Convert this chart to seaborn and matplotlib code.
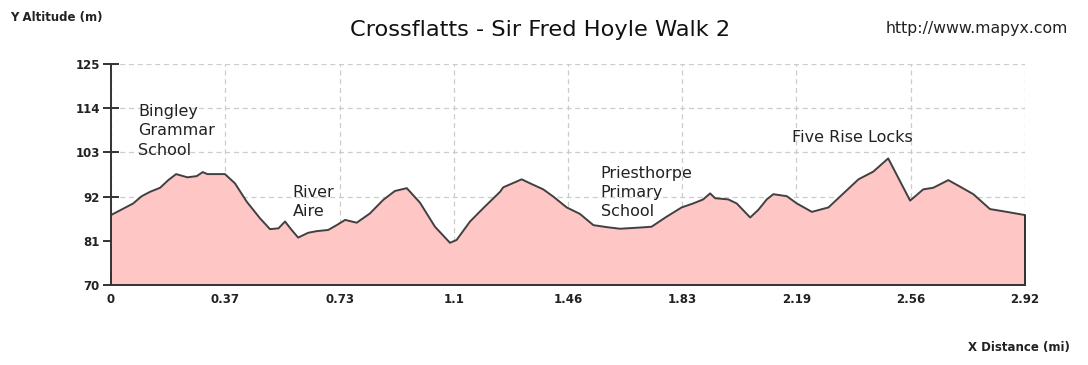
import matplotlib
matplotlib.use("Agg")
import matplotlib.pyplot as plt
import seaborn as sns
import pandas as pd

distance_mi = [0.0, 0.071, 0.098, 0.125, 0.157, 0.183, 0.208, 0.244, 0.274, 0.293, 0.308, 0.364,
               0.396, 0.434, 0.476, 0.508, 0.535, 0.556, 0.577, 0.598, 0.630, 0.657, 0.694, 0.721,
               0.748, 0.785, 0.827, 0.870, 0.907, 0.945, 0.987, 1.035, 1.083, 1.104, 1.147, 1.189,
               1.243, 1.253, 1.312, 1.339, 1.381, 1.413, 1.456, 1.498, 1.541, 1.584, 1.626, 1.690,
               1.727, 1.775, 1.823, 1.860, 1.892, 1.914, 1.930, 1.972, 1.999, 2.042, 2.068, 2.095,
               2.116, 2.159, 2.191, 2.239, 2.292, 2.340, 2.388, 2.435, 2.483, 2.553, 2.595, 2.627,
               2.675, 2.712, 2.755, 2.808, 2.862, 2.920]
altitude_m = [87.4, 90.3, 92.1, 93.2, 94.2, 96.1, 97.6, 96.8, 97.1, 98.1, 97.6, 97.6,
              95.3, 90.7, 86.6, 83.9, 84.1, 85.8, 83.7, 81.8, 83.0, 83.4, 83.7, 84.9,
              86.2, 85.5, 87.8, 91.2, 93.4, 94.1, 90.5, 84.5, 80.5, 81.2, 85.8, 89.1,
              93.2, 94.3, 96.3, 95.3, 93.8, 92.0, 89.3, 87.7, 84.9, 84.4, 84.0, 84.3,
              84.5, 87.0, 89.3, 90.3, 91.3, 92.8, 91.6, 91.3, 90.3, 86.8, 88.7, 91.3,
              92.6, 92.1, 90.3, 88.2, 89.3, 92.8, 96.3, 98.2, 101.5, 91.0, 93.8, 94.2,
              96.1, 94.5, 92.6, 88.9, 88.2, 87.4]

x_ticks = [0, 0.365, 0.73, 1.095, 1.46, 1.825, 2.19, 2.555, 2.92]
x_tick_labels = ["0", "0.37", "0.73", "1.1", "1.46", "1.83", "2.19", "2.56", "2.92"]
y_ticks = [70, 81, 92, 103, 114, 125]

landmark_names = ["Bingley\nGrammar\nSchool", "River\nAire", "Priesthorpe\nPrimary\nSchool", "Five Rise Locks"]
landmark_x = [0.086, 0.581, 1.565, 2.176]
landmark_y = [115.0, 94.9, 99.6, 108.6]

title = "Crossflatts - Sir Fred Hoyle Walk 2"

sns.set_theme(style="white")
plt.rcParams['font.family'] = ['DejaVu Sans']

df = pd.DataFrame({"distance": distance_mi, "altitude": altitude_m})

fig = plt.figure(figsize=(10.88, 3.65), dpi=100)
ax = fig.add_axes([111/1088, 80/365, 914/1088, 221/365])

ax.fill_between(df["distance"], df["altitude"], 70, color="#ffc6c6", zorder=2, linewidth=0)
sns.lineplot(data=df, x="distance", y="altitude", ax=ax, color="#404040", linewidth=1.4, zorder=3)
ax.plot([2.92, 2.92], [70, altitude_m[-1]], color="#303030", lw=1.4, zorder=3, clip_on=False)

ax.set_xlim(0, 2.92)
ax.set_ylim(70, 125)
ax.set_xticks(x_ticks)
ax.set_xticklabels(x_tick_labels)
ax.set_yticks(y_ticks)
ax.set_xlabel("")
ax.set_ylabel("")

ax.grid(True, color="#cccccc", linestyle=(0, (4, 3)), linewidth=0.9, zorder=1)
ax.set_axisbelow(True)
for s in ["top", "right"]:
    ax.spines[s].set_visible(False)
for s in ["left", "bottom"]:
    ax.spines[s].set_color("#333333")
    ax.spines[s].set_linewidth(1.4)
    ax.spines[s].set_zorder(4)

ax.tick_params(axis="x", direction="in", length=8, width=1.4, color="#333333",
               labelsize=8.5, pad=6, labelcolor="#222222", bottom=True)
ax.tick_params(axis="y", direction="inout", length=12, width=1.4, color="#333333",
               labelsize=8.5, pad=2, labelcolor="#222222", left=True)
for lbl in ax.get_xticklabels() + ax.get_yticklabels():
    lbl.set_fontweight("bold")

for name, lx, ly in zip(landmark_names, landmark_x, landmark_y):
    ax.text(lx, ly, name, ha="left", va="top", fontsize=11.5, color="#222222",
            linespacing=1.35, zorder=5)

fig.text(540/1088, 1 - 30/365, title, ha="center", va="center", fontsize=16.2, color="#111111")
fig.text(10/1088, 1 - 17/365, "Y Altitude (m)", ha="left", va="center", fontsize=8.5,
         fontweight="bold", color="#222222")
fig.text(1068/1088, 1 - 28/365, "http://www.mapyx.com", ha="right", va="center", fontsize=11.3,
         color="#222222")
fig.text(1070/1088, 1 - 347/365, "X Distance (mi)", ha="right", va="center", fontsize=8.5,
         fontweight="bold", color="#222222")

fig.savefig("out.png", dpi=100, facecolor="white")
